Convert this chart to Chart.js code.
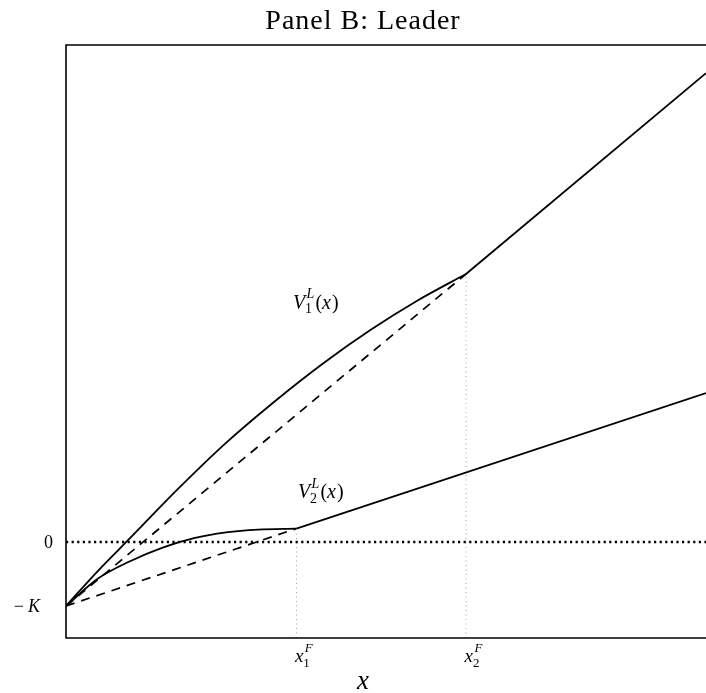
<!DOCTYPE html>
<html>
<head>
<meta charset="utf-8">
<script src="https://cdn.jsdelivr.net/npm/chart.js@4.4.1/dist/chart.umd.min.js"></script>
<style>
  html, body { margin: 0; padding: 0; background: #fff; overflow: hidden; }
  #wrap { width: 706px; height: 693px; }
</style>
</head>
<body>
<div id="wrap"><canvas id="chart" width="706" height="693"></canvas></div>
<script>
// investment cost and follower entry thresholds
const K = 1;
const followerTriggers = [3.6, 6.25];
const xMax = 10;

// leader value V1 (one firm may follow) before x2F
const leader1X = [0, 0.5, 1, 1.75, 2.5, 3.25, 4, 4.75, 5.5, 6.25];
const leader1Y = [-1, -0.45, 0.06, 0.83, 1.55, 2.19, 2.78, 3.31, 3.78, 4.19];
const leader1End = 7.33;

// leader value V2 before x1F
const leader2X = [0, 0.5, 1, 1.5, 2, 2.5, 3, 3.6];
const leader2Y = [-1, -0.57, -0.30, -0.09, 0.06, 0.15, 0.195, 0.21];
const leader2End = 2.33;

const yMin = -1.5;
const yMax = 7.77;

function pts(xs, ys) {
    return xs.map((x, i) => ({ x: x, y: ys[i] }));
}

const x1F = followerTriggers[0];
const x2F = followerTriggers[1];
const v1AtX2 = leader1Y[leader1Y.length - 1];
const v2AtX1 = leader2Y[leader2Y.length - 1];

const solid = { borderColor: '#000', borderWidth: 1.8, pointRadius: 0, fill: false };
const dashed = { borderColor: '#000', borderWidth: 1.7, pointRadius: 0, fill: false, borderDash: [9, 7] };
const guide = { borderColor: '#9a9a9a', borderWidth: 1, pointRadius: 0, fill: false, borderDash: [1, 3.5] };

const datasets = [
    // zero line
    { data: [{ x: 0, y: 0 }, { x: xMax, y: 0 }], borderColor: '#000', borderWidth: 2.4, pointRadius: 0, borderDash: [2.2, 3.4] },
    // thresholds
    Object.assign({ data: [{ x: x1F, y: yMin }, { x: x1F, y: v2AtX1 }] }, guide),
    Object.assign({ data: [{ x: x2F, y: yMin }, { x: x2F, y: v1AtX2 }] }, guide),
    // V1
    Object.assign({ data: pts(leader1X, leader1Y), cubicInterpolationMode: 'monotone' }, solid),
    Object.assign({ data: [{ x: x2F, y: v1AtX2 }, { x: xMax, y: leader1End }] }, solid),
    Object.assign({ data: [{ x: 0, y: -K }, { x: x2F, y: v1AtX2 }] }, dashed),
    // V2
    Object.assign({ data: pts(leader2X, leader2Y), cubicInterpolationMode: 'monotone' }, solid),
    Object.assign({ data: [{ x: x1F, y: v2AtX1 }, { x: xMax, y: leader2End }] }, solid),
    Object.assign({ data: [{ x: 0, y: -K }, { x: x1F, y: v2AtX1 }] }, dashed),
];

const SERIF = '"Liberation Serif", "DejaVu Serif", serif';

function setFont(ctx, size, italic) {
    ctx.font = (italic ? 'italic ' : '') + size + 'px ' + SERIF;
}

// symbol with stacked sub/superscript, e.g. V_1^L or x_1^F
function drawScripted(ctx, base, sub, sup, size, x, y) {
    const small = Math.round(size * 0.7);
    ctx.textAlign = 'left';
    ctx.textBaseline = 'alphabetic';
    setFont(ctx, size, true);
    ctx.fillText(base, x, y);
    let cx = x + ctx.measureText(base).width;
    setFont(ctx, small, false);
    ctx.fillText(sub, cx, y + size * 0.24);
    const wSub = ctx.measureText(sub).width;
    setFont(ctx, small, true);
    ctx.fillText(sup, cx + 1.5, y - size * 0.52);
    const wSup = ctx.measureText(sup).width + 1.5;
    return cx + Math.max(wSub, wSup) + 1;
}

// V_n^L(x) label at a data position
function drawValueLabel(ctx, n, x, y) {
    let cx = drawScripted(ctx, 'V', String(n), 'L', 20, x, y);
    setFont(ctx, 20, false);
    ctx.fillText('(', cx, y);
    cx += ctx.measureText('(').width;
    setFont(ctx, 20, true);
    ctx.fillText('x', cx, y);
    cx += ctx.measureText('x').width + 1;
    setFont(ctx, 20, false);
    ctx.fillText(')', cx, y);
}

const decorations = {
    id: 'decorations',
    afterDraw(chart) {
        const ctx = chart.ctx;
        const a = chart.chartArea;
        const xs = chart.scales.x;
        const ys = chart.scales.y;
        ctx.save();
        ctx.fillStyle = '#000';
        ctx.strokeStyle = '#000';

        // frame: left, top and bottom only
        ctx.lineWidth = 1.6;
        ctx.beginPath();
        ctx.moveTo(a.right + 2, a.top);
        ctx.lineTo(a.left, a.top);
        ctx.lineTo(a.left, a.bottom);
        ctx.lineTo(a.right + 2, a.bottom);
        ctx.stroke();

        // title
        setFont(ctx, 28, false);
        ctx.letterSpacing = '1px';
        ctx.textAlign = 'center';
        ctx.textBaseline = 'alphabetic';
        ctx.fillText('Panel B: Leader', 363, 29);
        ctx.letterSpacing = '0px';

        // y ticks
        ctx.textAlign = 'right';
        setFont(ctx, 18, false);
        ctx.fillText('0', a.left - 13, ys.getPixelForValue(0) + 6);
        setFont(ctx, 18, true);
        ctx.fillText('K', a.left - 26, ys.getPixelForValue(-K) + 6);
        const kw = ctx.measureText('K').width;
        setFont(ctx, 18, false);
        ctx.fillText('\u2212', a.left - 26 - kw - 4, ys.getPixelForValue(-K) + 6);

        // x ticks
        followerTriggers.forEach((v, i) => {
            drawScripted(ctx, 'x', String(i + 1), 'F', 19, xs.getPixelForValue(v) - 1.5, a.bottom + 24);
        });

        // axis title
        setFont(ctx, 27, true);
        ctx.textAlign = 'center';
        ctx.fillText('x', 363, a.bottom + 51);

        // curve labels
        drawValueLabel(ctx, 1, xs.getPixelForValue(x1F) - 3.5, ys.getPixelForValue(3.65));
        drawValueLabel(ctx, 2, xs.getPixelForValue(x1F) + 1.5, ys.getPixelForValue(0.69));
        ctx.restore();
    }
};

new Chart(document.getElementById('chart'), {
    type: 'line',
    data: { datasets: datasets },
    options: {
        responsive: false,
        animation: false,
        layout: { padding: { left: 66, top: 45, right: 0, bottom: 55 } },
        plugins: { legend: { display: false }, tooltip: { enabled: false }, title: { display: false } },
        scales: {
            x: { type: 'linear', min: 0, max: xMax, display: false },
            y: { type: 'linear', min: yMin, max: yMax, display: false }
        }
    },
    plugins: [decorations]
});
</script>
</body>
</html>
